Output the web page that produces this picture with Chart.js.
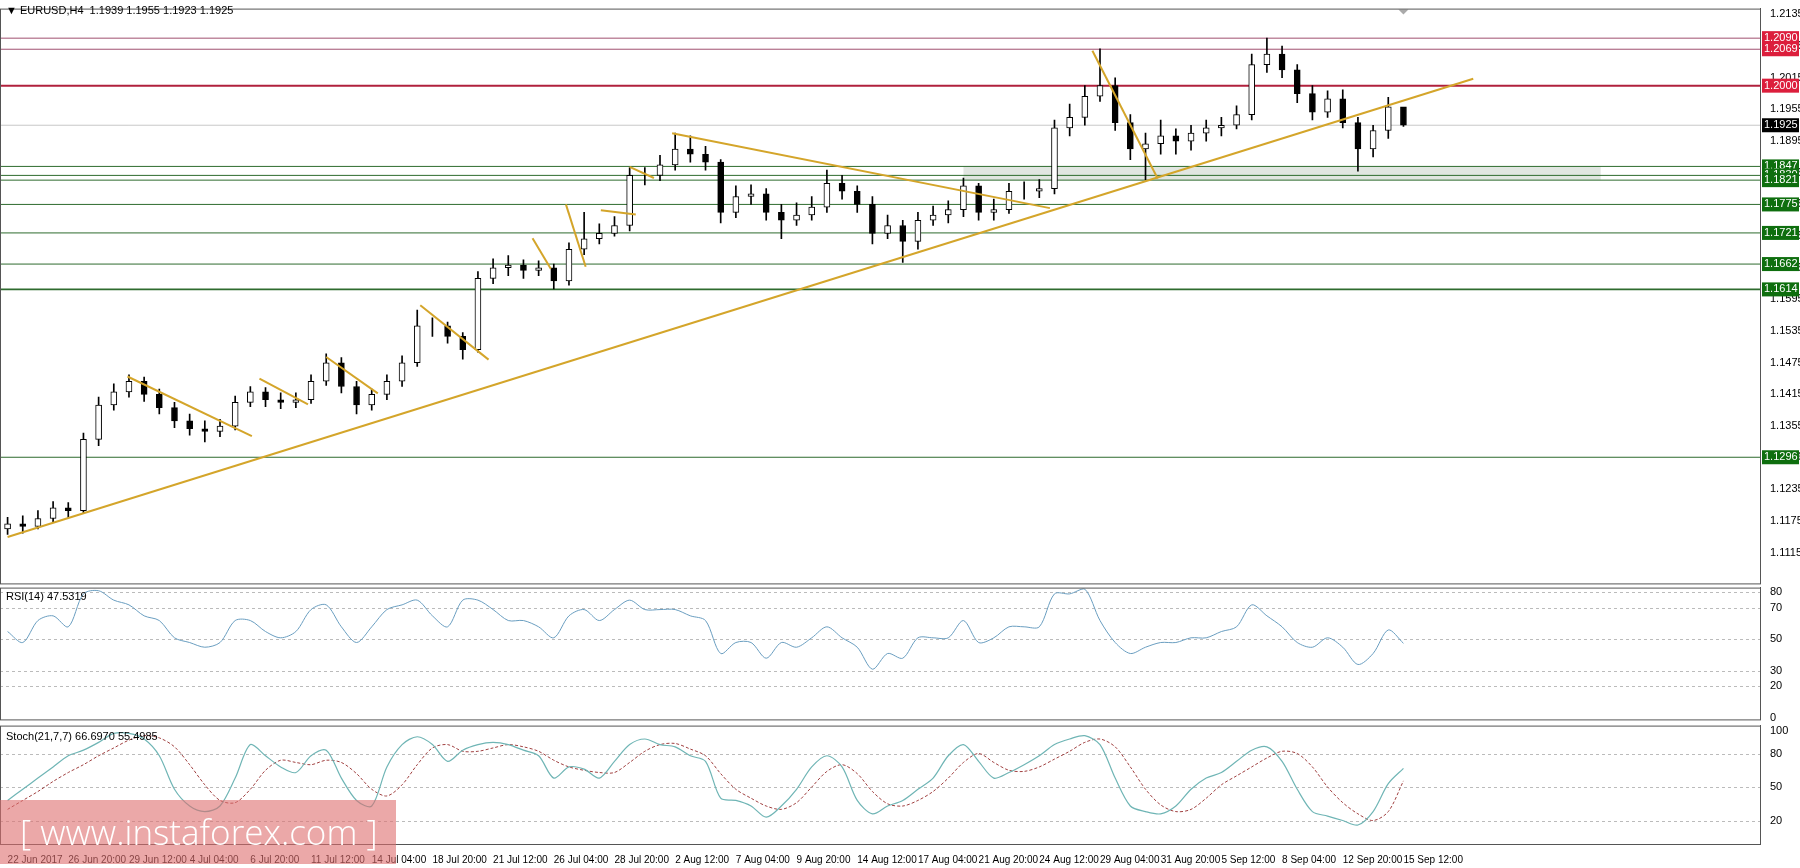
<!DOCTYPE html>
<html>
<head>
<meta charset="utf-8">
<script src="https://cdn.jsdelivr.net/npm/chart.js@4.4.1/dist/chart.umd.min.js"></script>
<style>
  body { margin: 0; background: #fff; }
  #wrap { position: relative; width: 1800px; height: 868px; overflow: hidden; font-family: "Liberation Sans", Arial, sans-serif; }
  canvas { position: absolute; left: 0; }
  .hdr { position: absolute; left: 6px; font-size: 11px; color: #000; }
  #wm { position: absolute; left: 0; top: 800px; width: 396px; height: 64px; background: rgba(222,110,110,0.6);
        color: #fff; font-size: 35px; line-height: 64px; padding-left: 20px; box-sizing: border-box; white-space: nowrap;
        font-family: "Open Sans", sans-serif; font-weight: 300; }
</style>
</head>
<body>
<div id="wrap">
  <canvas id="main" width="1800" height="592" style="top:0"></canvas>
  <canvas id="rsi" width="1800" height="149" style="top:579px"></canvas>
  <canvas id="stoch" width="1800" height="151" style="top:717px"></canvas>
  <div class="hdr" style="top:4px">&#9660; EURUSD,H4&nbsp; 1.1939 1.1955 1.1923 1.1925</div>
  <div class="hdr" style="top:590px">RSI(14) 47.5319</div>
  <div class="hdr" style="top:730px">Stoch(21,7,7) 66.6970 55.4985</div>
  <div id="wm">[ www.instaforex.com ]</div>
</div>
<script>
// ---- data ----
const xTickLabels = ['22 Jun 2017','26 Jun 20:00','29 Jun 12:00','4 Jul 04:00','6 Jul 20:00','11 Jul 12:00','14 Jul 04:00',
  '18 Jul 20:00','21 Jul 12:00','26 Jul 04:00','28 Jul 20:00','2 Aug 12:00','7 Aug 04:00','9 Aug 20:00','14 Aug 12:00',
  '17 Aug 04:00','21 Aug 20:00','24 Aug 12:00','29 Aug 04:00','31 Aug 20:00','5 Sep 12:00','8 Sep 04:00','12 Sep 20:00','15 Sep 12:00'];
const firstOpen = 1.1160;
const closes = [1.1170,1.1165,1.1180,1.1200,1.1195,1.1330,1.1395,1.1420,1.1440,1.1415,
  1.1390,1.1365,1.1350,1.1345,1.1355,1.1400,1.1420,1.1405,1.1400,1.1405,
  1.1440,1.1475,1.1430,1.1395,1.1415,1.1440,1.1475,1.1545,1.1545,1.1525,
  1.1500,1.1635,1.1655,1.1660,1.1650,1.1655,1.1630,1.1690,1.1710,1.1720,
  1.1735,1.1830,1.1830,1.1850,1.1880,1.1870,1.1855,1.1760,1.1790,1.1795,
  1.1760,1.1745,1.1755,1.1770,1.1815,1.1800,1.1775,1.1720,1.1735,1.1705,
  1.1745,1.1755,1.1765,1.1810,1.1760,1.1765,1.1800,1.1800,1.1805,1.1920,
  1.1940,1.1980,1.2000,1.1930,1.1880,1.1890,1.1905,1.1895,1.1910,1.1920,
  1.1925,1.1945,1.2040,1.2060,1.2030,1.1985,1.1950,1.1975,1.1930,1.1880,
  1.1915,1.1960,1.1925];
const highs = [1.1182,1.1185,1.1195,1.1212,1.1210,1.1342,1.1410,1.1435,1.1452,1.1448,
  1.1425,1.1400,1.1378,1.1365,1.1368,1.1412,1.1430,1.1428,1.1418,1.1418,
  1.1452,1.1492,1.1485,1.1440,1.1425,1.1452,1.1488,1.1575,1.1560,1.1552,
  1.1532,1.1648,1.1672,1.1678,1.1670,1.1668,1.1662,1.1702,1.1760,1.1738,
  1.1752,1.1845,1.1845,1.1868,1.1910,1.1905,1.1885,1.1860,1.1810,1.1812,
  1.1805,1.1775,1.1778,1.1790,1.1840,1.1830,1.1810,1.1790,1.1755,1.1745,
  1.1760,1.1772,1.1782,1.1825,1.1815,1.1785,1.1815,1.1818,1.1822,1.1935,
  1.1965,1.2000,1.2070,1.2015,1.1945,1.1910,1.1935,1.1918,1.1925,1.1935,
  1.1940,1.1962,1.2060,1.2090,1.2075,1.2040,1.2000,1.1990,1.1992,1.1940,
  1.1925,1.1978,1.1955];
const lows = [1.1150,1.1152,1.1160,1.1172,1.1182,1.1190,1.1318,1.1385,1.1410,1.1402,
  1.1378,1.1352,1.1338,1.1325,1.1335,1.1348,1.1392,1.1392,1.1388,1.1390,
  1.1398,1.1432,1.1418,1.1378,1.1385,1.1405,1.1430,1.1468,1.1525,1.1512,
  1.1482,1.1495,1.1625,1.1640,1.1635,1.1640,1.1615,1.1622,1.1680,1.1700,
  1.1715,1.1725,1.1812,1.1820,1.1840,1.1855,1.1840,1.1740,1.1750,1.1775,
  1.1745,1.1710,1.1735,1.1745,1.1760,1.1785,1.1760,1.1700,1.1710,1.1665,
  1.1690,1.1735,1.1740,1.1752,1.1745,1.1745,1.1758,1.1785,1.1788,1.1795,
  1.1905,1.1925,1.1970,1.1915,1.1860,1.1822,1.1870,1.1870,1.1878,1.1895,
  1.1905,1.1918,1.1935,1.2025,1.2015,1.1968,1.1935,1.1940,1.1920,1.1838,
  1.1865,1.1900,1.1923];
const rsi = [55,48,62,65,58,79,81,75,72,65,62,51,48,45,48,62,62,55,51,55,
  69,72,58,48,58,69,72,75,65,58,75,75,69,62,62,58,51,65,69,62,
  69,75,69,69,69,65,62,41,48,48,38,48,45,51,58,51,45,31,41,38,
  51,51,51,62,48,51,58,58,58,79,79,82,62,48,41,45,48,48,51,51,
  55,58,72,65,58,48,45,51,45,34,41,56,47.5];
const stochMain = [38,48,58,68,78,83,90,98,98,93,78,48,33,28,33,58,88,78,68,63,
  78,83,58,38,33,68,88,95,88,73,83,88,90,88,83,78,58,68,66,58,
  73,88,93,88,86,78,73,40,38,33,23,33,48,68,78,68,38,26,33,38,
  48,58,78,88,73,58,63,70,78,88,93,96,88,58,33,28,26,33,48,58,
  63,73,83,86,73,48,28,24,20,16,28,53,66.7];
const stochSignal = [30,38,46,55,63,70,78,85,92,96,94,86,70,52,38,36,48,65,74,72,
  70,74,72,62,48,42,52,70,85,88,82,82,85,88,86,82,74,68,65,63,
  63,72,82,88,89,84,78,62,48,40,33,30,36,50,64,70,62,46,35,33,
  38,46,58,72,80,72,65,64,68,75,82,90,93,86,68,48,34,28,30,40,
  52,60,68,76,82,80,68,50,36,26,20,28,55.5];
const priceTicks = [1.1115,1.1175,1.1235,1.1296,1.1355,1.1415,1.1475,1.1535,1.1595,1.1655,1.1715,1.1775,1.1835,1.1895,1.1955,1.2015,1.2075,1.2135];
const redLevels = [1.2090, 1.2069, 1.2000];
const greenLevels = [1.1847, 1.1830, 1.1821, 1.1775, 1.1721, 1.1662, 1.1614, 1.1296];
const lastPrice = 1.1925;
const zone = [63, 105, 1.1821, 1.1847];
// trendlines: [i1, p1, i2, p2]
const trendLines = [
  [0, 1.1145, 96.6, 1.2013],
  [7.9, 1.1449, 16.1, 1.1336], [16.6, 1.1445, 19.8, 1.1396], [21, 1.1486, 24.4, 1.1417],
  [27.2, 1.1584, 31.7, 1.1481], [34.6, 1.1711, 35.8, 1.1653], [36.8, 1.1775, 38.1, 1.1657],
  [39.1, 1.1764, 41.4, 1.1756], [41, 1.1846, 42.6, 1.1825], [43.8, 1.1910, 68.7, 1.1768],
  [71.5, 1.2066, 75.8, 1.1824]
];
const rsiLevels = [80, 70, 50, 30, 20];
const stochLevels = [80, 50, 20];

const N = 116;
const labels = Array.from({ length: N }, (_, i) => i);
const opens = closes.map((c, i) => i === 0 ? firstOpen : closes[i - 1]);
const AXIS_W = 40;
const FONT = { family: 'Liberation Sans', size: 11 };

function fixAxis(scale) { scale.width = AXIS_W; }

const frame = {
  id: 'frame',
  afterDraw(chart) {
    const { ctx, chartArea: a } = chart;
    ctx.save();
    ctx.strokeStyle = '#555'; ctx.lineWidth = 1;
    ctx.strokeRect(a.left + 0.5, a.top + 0.5, a.right - a.left, a.bottom - a.top);
    ctx.restore();
  }
};

function hLine(ctx, a, y, color, w, dash) {
  ctx.strokeStyle = color; ctx.lineWidth = w; ctx.setLineDash(dash || []);
  ctx.beginPath(); ctx.moveTo(a.left, y); ctx.lineTo(a.right, y); ctx.stroke();
  ctx.setLineDash([]);
}

function priceBox(ctx, a, y, v, bg) {
  ctx.fillStyle = bg;
  ctx.fillRect(a.right + 2, y - 7, AXIS_W - 3, 14);
  ctx.fillStyle = '#fff';
  ctx.font = '11px Liberation Sans';
  ctx.textAlign = 'left'; ctx.textBaseline = 'middle';
  ctx.fillText(v.toFixed(4), a.right + 4, y);
}

const levelsPlugin = {
  id: 'levels',
  beforeDatasetsDraw(chart) {
    const { ctx, chartArea: a, scales: { x, y } } = chart;
    ctx.save();
    ctx.fillStyle = 'rgba(200,210,200,0.55)';
    const zx1 = x.getPixelForValue(zone[0]), zx2 = x.getPixelForValue(zone[1]);
    ctx.fillRect(zx1, y.getPixelForValue(zone[3]), zx2 - zx1, y.getPixelForValue(zone[2]) - y.getPixelForValue(zone[3]));
    hLine(ctx, a, y.getPixelForValue(lastPrice), '#c8c8c8', 1);
    redLevels.forEach((v, i) => hLine(ctx, a, y.getPixelForValue(v), i === 2 ? '#b0203c' : '#a05070', i === 2 ? 2 : 1));
    greenLevels.forEach(v => hLine(ctx, a, y.getPixelForValue(v), '#2e6b2e', v === 1.1614 ? 1.6 : 1));
    ctx.restore();
  },
  afterDatasetsDraw(chart) {
    const { ctx, chartArea: a, scales: { x, y } } = chart;
    ctx.save();
    ctx.strokeStyle = '#d4a52a'; ctx.lineWidth = 2;
    trendLines.forEach(t => {
      ctx.beginPath();
      ctx.moveTo(x.getPixelForValue(t[0]), y.getPixelForValue(t[1]));
      ctx.lineTo(x.getPixelForValue(t[2]), y.getPixelForValue(t[3]));
      ctx.stroke();
    });
    const mx = x.getPixelForValue(closes.length - 1);
    ctx.fillStyle = '#aaa';
    ctx.beginPath(); ctx.moveTo(mx - 5, a.top + 1); ctx.lineTo(mx + 5, a.top + 1); ctx.lineTo(mx, a.top + 6); ctx.fill();
    ctx.restore();
  },
  afterDraw(chart) {
    const { ctx, chartArea: a, scales: { y } } = chart;
    ctx.save();
    redLevels.forEach(v => priceBox(ctx, a, y.getPixelForValue(v), v, '#dc1e3c'));
    priceBox(ctx, a, y.getPixelForValue(lastPrice), lastPrice, '#000');
    greenLevels.forEach(v => priceBox(ctx, a, y.getPixelForValue(v), v, '#0e6e0e'));
    ctx.restore();
  }
};

function dashedLevels(levels) {
  return {
    id: 'dl',
    beforeDatasetsDraw(chart) {
      const { ctx, chartArea: a, scales: { y } } = chart;
      ctx.save();
      levels.forEach(v => hLine(ctx, a, Math.round(y.getPixelForValue(v)) + 0.5, '#bbb', 1, [3, 3]));
      ctx.restore();
    }
  };
}

const xHidden = { type: 'category', labels, offset: true, display: false, grid: { display: false } };
function yRight(min, max, ticks, fmt) {
  return {
    position: 'right', min, max, grid: { display: false },
    border: { color: '#555' },
    afterFit: fixAxis,
    afterBuildTicks: s => { s.ticks = ticks.map(v => ({ value: v })); },
    ticks: { font: FONT, color: '#000', padding: 2, callback: fmt }
  };
}
const common = {
  responsive: false, animation: false, devicePixelRatio: 1,
  layout: { padding: 0 },
  plugins: { legend: { display: false }, tooltip: { enabled: false } }
};

new Chart(document.getElementById('main'), {
  type: 'bar',
  data: {
    labels,
    datasets: [
      { data: highs.map((h, i) => [lows[i], h]), backgroundColor: '#000', barThickness: 1, grouped: false, order: 2 },
      { data: opens.map((o, i) => [o, closes[i]]), grouped: false, order: 1,
        backgroundColor: opens.map((o, i) => closes[i] >= o ? '#fff' : '#000'),
        borderColor: '#000', borderWidth: 1, borderSkipped: false, barThickness: 6 }
    ]
  },
  options: {
    ...common,
    scales: {
      x: xHidden,
      y: yRight(1.1057, 1.2146, priceTicks, v => v.toFixed(4))
    }
  },
  plugins: [levelsPlugin, frame]
});

new Chart(document.getElementById('rsi'), {
  type: 'line',
  data: { labels, datasets: [{ data: rsi, borderColor: '#6a9ec0', borderWidth: 1, pointRadius: 0, tension: 0.3 }] },
  options: {
    ...common,
    layout: { padding: { top: 1, bottom: 0 } },
    scales: { x: xHidden, y: yRight(-1, 83, [0, 20, 30, 50, 70, 80], v => v) }
  },
  plugins: [dashedLevels(rsiLevels), frame]
});

new Chart(document.getElementById('stoch'), {
  type: 'line',
  data: {
    labels,
    datasets: [
      { data: stochMain, borderColor: '#6fb5b5', borderWidth: 1.2, pointRadius: 0, tension: 0.3 },
      { data: stochSignal, borderColor: '#a04040', borderWidth: 1, borderDash: [3, 2], pointRadius: 0, tension: 0.3 }
    ]
  },
  options: {
    ...common,
    layout: { padding: { top: 2, bottom: 0 } },
    scales: {
      x: {
        type: 'category', labels, offset: true, grid: { display: false, drawTicks: true },
        border: { color: '#555' },
        ticks: {
          autoSkip: false, maxRotation: 0, font: { family: 'Liberation Sans', size: 10 }, color: '#000', align: 'start', padding: 2,
          callback: (v, i) => (i % 4 === 0 && i / 4 < xTickLabels.length) ? xTickLabels[i / 4] : ''
        }
      },
      y: yRight(-1, 105, [20, 50, 80, 100], v => v)
    }
  },
  plugins: [dashedLevels(stochLevels), frame]
});
</script>
</body>
</html>
